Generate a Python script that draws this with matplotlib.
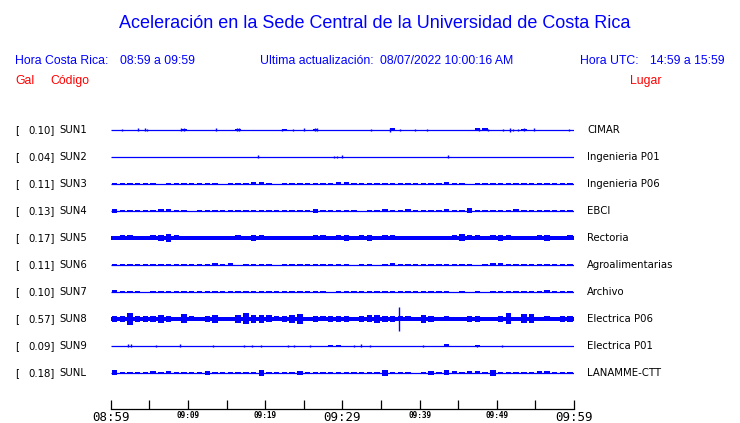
import numpy as np
import matplotlib
matplotlib.use("Agg")
import matplotlib.pyplot as plt

########## data ###############################################################
title = "Aceleración en la Sede Central de la Universidad de Costa Rica"
hora_cr = "08:59 a 09:59"
hora_utc = "14:59 a 15:59"
ultima = "08/07/2022 10:00:16 AM"

codes = ["SUN1", "SUN2", "SUN3", "SUN4", "SUN5", "SUN6", "SUN7", "SUN8", "SUN9", "SUNL"]
gal = [0.10, 0.04, 0.11, 0.13, 0.17, 0.11, 0.10, 0.57, 0.09, 0.18]
lugar = ["CIMAR", "Ingenieria P01", "Ingenieria P06", "EBCI", "Rectoria",
         "Agroalimentarias", "Archivo", "Electrica P06", "Electrica P01", "LANAMME-CTT"]

tick_minutes = [0, 10, 20, 30, 40, 50, 60]
tick_labels = ["08:59", "09:09", "09:19", "09:29", "09:39", "09:49", "09:59"]
big_ticks = ["08:59", "09:29", "09:59"]

# noise floor (half width, px) of each trace
floor = [0, 0, 0, 0, 2.0, 0, 0, 2.0, 0, 0]

# burst envelope per minute (half amplitude, px), minutes 0..59
burst = {
    "SUN1": [0, 0, 0, 0, 0, 0, 0, 0, 0, 1, 0, 0, 0, 0, 0, 0, 1, 0, 0, 0,
             0, 0, 1, 0, 0, 0, 1, 0, 0, 0, 0, 0, 0, 0, 0, 0, 1.5, 0, 0, 0,
             0, 0, 0, 0, 0, 0, 0, 1.5, 1.5, 0, 0, 0, 0, 1, 0, 0, 0, 0, 0, 0],
    "SUN2": [0] * 60,
    "SUN3": [1, 1, 1, 1, 1, 1, 0, 1, 1, 1, 1, 1, 1, 1, 0, 1, 1, 1, 1.5, 1.5,
             1, 0, 1, 1, 1, 1, 1, 1, 1, 1.5, 1.5, 1, 1, 1, 1, 1, 1, 0.5, 1, 1,
             0.5, 1, 1, 1.5, 1, 1, 0, 1, 1, 1, 1, 1, 1, 0.5, 1, 1, 1, 0.5, 1, 1],
    "SUN4": [2, 1, 1, 1, 1, 1, 1.5, 1.5, 1, 1, 0, 1, 1, 1, 1, 1, 1, 1, 0.5, 1,
             1, 1, 1, 1, 1, 1, 2, 1, 1, 1, 1, 1, 0, 1, 1, 1.5, 1, 1, 1.5, 1,
             1, 1, 1, 1.5, 1, 0.5, 2.5, 1, 1, 1, 1, 1, 1.5, 1, 1, 1, 0.5, 1, 1, 1],
    "SUN5": [1.5, 2.5, 2.5, 1.5, 2, 2.5, 3, 4, 2.5, 2, 2, 2, 1.5, 2, 1.5, 2, 2.5, 2, 3, 2.5,
             2, 2, 1.5, 2, 2, 1.5, 2.5, 2.5, 2, 2.5, 3, 2, 2.5, 3, 2, 2.5, 2.5, 2, 2, 2,
             2, 1.5, 2, 2, 2.5, 3.5, 2.5, 2.5, 2, 2.5, 3, 2.5, 2, 2, 2, 2.5, 3, 2, 2, 2.5],
    "SUN6": [1, 1, 1, 1, 1, 0.5, 0.5, 0.5, 1, 1, 1, 1, 0.5, 1.5, 1, 1.5, 0, 0.5, 0.5, 1,
             0.5, 0, 1, 0.5, 0.5, 0.5, 1, 0.5, 0.5, 0.5, 0.5, 0, 1, 1, 0, 1, 1.5, 1, 1, 1,
             0.5, 1, 1, 1, 1, 1, 0.5, 0, 1, 1.5, 1.5, 1, 1, 1, 1, 0.5, 0.5, 1, 1, 1],
    "SUN7": [1.5, 1, 0.5, 1, 0, 1, 1, 0.5, 0.5, 1, 1, 0.5, 0.5, 1, 1, 1, 0.5, 1, 1, 0.5,
             0.5, 1, 1, 1, 1, 1, 0.5, 1, 0, 1, 1, 1, 1, 1, 0.5, 1, 0.5, 1, 1, 0.5,
             1, 1, 1, 0.5, 0, 1, 0, 0.5, 0, 1, 1, 1, 1, 0.5, 1, 1, 1.5, 0.5, 0.5, 0.5],
    "SUN8": [3, 3, 6, 3, 3, 3, 4, 3, 2, 4.5, 2.5, 1.5, 3, 4, 2, 1.5, 4, 5.5, 4, 4,
             3.5, 2.5, 3, 4, 5, 1.5, 3, 2.5, 3, 3, 3, 2, 3, 3.5, 4, 3, 3, 2.5, 2.5, 2,
             4, 3, 2, 2.5, 2, 1.5, 3, 3, 1.5, 2, 3, 5.5, 2, 4.5, 4.5, 2, 2.5, 1.5, 3, 3],
    "SUN9": [0] * 28 + [1, 1] + [0] * 13 + [1.5, 0, 0, 0, 0.5] + [0] * 12,
    "SUNL": [2.5, 1, 0.5, 1, 1, 1.5, 1, 1.5, 1, 1, 1, 1, 2, 1, 1, 0.5, 0.5, 0.5, 1, 3,
             0.5, 1, 1, 1, 2, 1, 0.5, 1, 0.5, 1, 0.5, 0.5, 1, 1, 0.5, 3, 0.5, 1, 1, 0,
             0.5, 2, 1, 2.5, 1.5, 1, 1.5, 1.5, 1, 3, 1, 0.5, 1, 1, 0.5, 1.5, 1.5, 1, 1, 0.5],
}

# single narrow spikes: (minute, half amplitude px)
spikes = {
    "SUN1": [(1.5, 1), (3.6, 1.5), (4.4, 1.5), (4.7, 1), (9.1, 1.5), (9.5, 1.5), (13.6, 1.5),
             (16.3, 1.5), (16.6, 1.5), (22.2, 1), (23.6, 0.7), (25.0, 1.5), (26.4, 1.5),
             (26.7, 1.5), (33.7, 0.7), (36.2, 2), (37.5, 0.7), (39.4, 0.7), (41.0, 0.7),
             (47.7, 1.5), (48.9, 0.7), (50.8, 1), (51.7, 2), (52.1, 1), (52.7, 1), (53.5, 1.5),
             (54.8, 1.5), (59.4, 1)],
    "SUN2": [(19.1, 1.5), (28.9, 0.8), (29.3, 0.8), (29.9, 1.5), (43.7, 1.5)],
    "SUN8": [(37.4, 12)],
    "SUN9": [(2.3, 1.5), (2.6, 1.5), (5.9, 1), (9.0, 1.5), (13.2, 1), (17.2, 1), (18.3, 1),
             (19.5, 1), (23.0, 1), (23.8, 1), (25.8, 0.8), (31.5, 1), (32.4, 1.5), (33.6, 1),
             (40.5, 1), (47.4, 1), (50.7, 1)],
}

########## layout #############################################################
W, H = 740, 423
x0_px, x1_px = 110.7, 574.0
row0, row_step = 130, 27
blue = "#0000ff"
red = "#ff0000"

fig = plt.figure(figsize=(W / 100, H / 100), dpi=100)
fig.patch.set_facecolor("white")

def ftext(x, y, s, **kw):
    fig.text(x / W, 1 - y / H, s, **kw)

ax = fig.add_axes([x0_px / W, 0, (x1_px - x0_px) / W, 1])
ax.set_xlim(0, 60)
ax.set_ylim(H, 0)  # 1 unit = 1 px
ax.patch.set_alpha(0)

minutes = np.arange(60) + 0.5
for i, code in enumerate(codes):
    yc = row0 + i * row_step
    ax.hlines(yc, 0, 60, color=blue, lw=0.9)
    if floor[i] > 0:
        ax.fill_between([0, 60], yc - floor[i], yc + floor[i], color=blue, lw=0)
    amp = np.array(burst[code], dtype=float)
    m = amp > 0
    ax.bar(minutes[m], 2 * amp[m], bottom=yc - amp[m], width=0.7, color=blue, lw=0)
    for t, a in spikes.get(code, []):
        ax.vlines(t, yc - a, yc + a, color=blue, lw=1.0)

    # labels left and right
    ftext(15, yc, "[", fontsize=7.3, va="center", ha="left")
    ftext(55, yc, f"{gal[i]:.2f}]", fontsize=7.3, va="center", ha="right")
    ftext(59, yc, code, fontsize=7.3, va="center", ha="left")
    ftext(587, yc, lugar[i], fontsize=7.3, va="center", ha="left")

# time axis
for s in ["top", "left", "right"]:
    ax.spines[s].set_visible(False)
ax.spines["bottom"].set_position(("data", 409))
ax.spines["bottom"].set_linewidth(0.9)
ax.set_yticks([])
ax.set_xticks(tick_minutes)
ax.set_xticks(np.arange(5, 60, 10), minor=True)
ax.set_xticklabels(tick_labels)
ax.tick_params(axis="x", which="both", direction="in", length=6.3, width=0.9, pad=1.5)
for lab in ax.get_xticklabels():
    lab.set_family("DejaVu Sans Mono")
    if lab.get_text() in big_ticks:
        lab.set_fontsize(9)
    else:
        lab.set_fontsize(5.6)
        lab.set_fontweight("bold")

# header texts
hf = "Liberation Sans"
ftext(375, 23, title, fontsize=13, color=blue, family=hf, ha="center", va="center")
ftext(15, 61, "Hora Costa Rica:", fontsize=8.8, color=blue, family=hf, va="center")
ftext(120, 61, hora_cr, fontsize=8.8, color=blue, family=hf, va="center")
ftext(260, 61, "Ultima actualización:", fontsize=8.8, color=blue, family=hf, va="center")
ftext(380, 61, ultima, fontsize=8.8, color=blue, family=hf, va="center")
ftext(580, 61, "Hora UTC:", fontsize=8.8, color=blue, family=hf, va="center")
ftext(650, 61, hora_utc, fontsize=8.8, color=blue, family=hf, va="center")
ftext(15, 81, "Gal", fontsize=8.8, color=red, family=hf, va="center")
ftext(50, 81, "Código", fontsize=8.8, color=red, family=hf, va="center")
ftext(630, 81, "Lugar", fontsize=8.8, color=red, family=hf, va="center")

fig.savefig("out.png", dpi=100)
